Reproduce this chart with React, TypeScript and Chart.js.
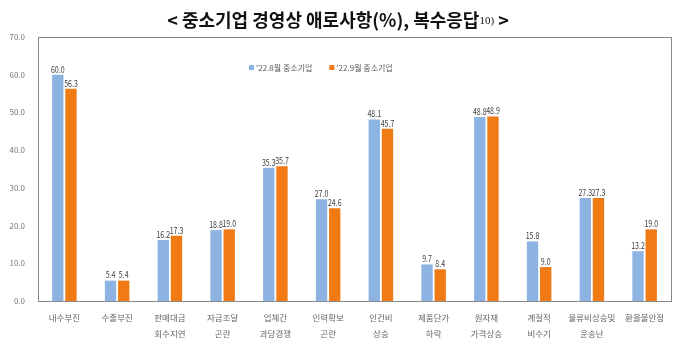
import React, { useEffect, useRef } from "react";
import { Chart, registerables } from "chart.js";

Chart.register(...registerables);

const categories: string[][] = [
  ["내수부진"],
  ["수출부진"],
  ["판매대금", "회수지연"],
  ["자금조달", "곤란"],
  ["업체간", "과당경쟁"],
  ["인력확보", "곤란"],
  ["인건비", "상승"],
  ["제품단가", "하락"],
  ["원자재", "가격상승"],
  ["계절적", "비수기"],
  ["물류비상승및", "운송난"],
  ["환율불안정"],
];
const seriesAug = [60.0, 5.4, 16.2, 18.8, 35.3, 27.0, 48.1, 9.7, 48.8, 15.8, 27.3, 13.2];
const seriesSep = [56.3, 5.4, 17.3, 19.0, 35.7, 24.6, 45.7, 8.4, 48.9, 9.0, 27.3, 19.0];
const seriesNames = ["'22.8월 중소기업", "'22.9월 중소기업"];
const colors = ["#8DB3E2", "#F07B14"];
const titleMain = "< 중소기업 경영상 애로사항(%), 복수응답";
const titleSup = "10)";
const titleEnd = " >";

const FONT = "'Noto Sans CJK KR', 'Noto Sans', sans-serif";

const decorPlugin = {
  id: "decor",
  afterDraw(chart: any) {
    const ctx = chart.ctx;
    const ca = chart.chartArea;
    ctx.save();
    // border
    ctx.strokeStyle = "#8a8a8a";
    ctx.lineWidth = 1;
    ctx.strokeRect(Math.round(ca.left) + 0.5, Math.round(ca.top) + 0.5, Math.round(ca.right - ca.left), Math.round(ca.bottom - ca.top));

    // title
    ctx.fillStyle = "#111";
    ctx.textBaseline = "middle";
    const mainFont = `bold 18px ${FONT}`;
    const supFont = `11px 'Liberation Serif', serif`;
    ctx.font = mainFont;
    const w1 = ctx.measureText(titleMain).width;
    const w3 = ctx.measureText(titleEnd).width;
    ctx.font = supFont;
    const w2 = ctx.measureText(titleSup).width;
    let x = 338 - (w1 + w2 + w3) / 2;
    const y = 20;
    ctx.textAlign = "left";
    ctx.font = mainFont;
    ctx.fillText(titleMain, x, y);
    x += w1;
    ctx.font = supFont;
    ctx.fillText(titleSup, x, y + 1);
    x += w2;
    ctx.font = mainFont;
    ctx.fillText(titleEnd, x, y);

    // legend
    ctx.font = `8px ${FONT}`;
    let lx = 249;
    const ly = 68;
    seriesNames.forEach((name, i) => {
      ctx.fillStyle = colors[i];
      ctx.fillRect(lx, ly - 3, 5, 5);
      ctx.fillStyle = "#595959";
      ctx.fillText(name, lx + 7, ly);
      lx += ctx.measureText(name).width + 7 + 17;
    });

    // data labels (condensed)
    ctx.font = `9.5px ${FONT}`;
    ctx.fillStyle = "#404040";
    ctx.textAlign = "center";
    ctx.textBaseline = "bottom";
    chart.data.datasets.forEach((ds: any, di: number) => {
      const meta = chart.getDatasetMeta(di);
      meta.data.forEach((bar: any, i: number) => {
        ctx.save();
        ctx.translate(bar.x, bar.y - 1);
        ctx.scale(0.74, 1);
        ctx.fillText(Number(ds.data[i]).toFixed(1), 0, 0);
        ctx.restore();
      });
    });
    ctx.restore();
  },
};

export default function App() {
  const ref = useRef<HTMLCanvasElement>(null);
  useEffect(() => {
    document.body.style.margin = "0";
    const chart = new Chart(ref.current!, {
      type: "bar",
      data: {
        labels: categories,
        datasets: [
          { label: seriesNames[0], data: seriesAug, backgroundColor: colors[0] },
          { label: seriesNames[1], data: seriesSep, backgroundColor: colors[1] },
        ],
      },
      options: {
        animation: false,
        responsive: false,
        layout: { padding: { left: 0, right: 9, top: 37, bottom: 0 } },
        plugins: { legend: { display: false }, tooltip: { enabled: false }, title: { display: false } },
        datasets: { bar: { categoryPercentage: 0.5, barPercentage: 0.86 } } as any,
        scales: {
          x: {
            grid: { display: false },
            border: { display: false },
            ticks: { color: "#666", font: { size: 8.5, family: FONT, lineHeight: 1.88 }, padding: 1, maxRotation: 0, autoSkip: false },
            afterFit(scale: any) { scale.height = 51; },
          },
          y: {
            min: 0,
            max: 70,
            grid: { display: false },
            border: { display: false },
            ticks: {
              stepSize: 10,
              color: "#777",
              font: { size: 8, family: FONT },
              padding: 5,
              callback: (v: any) => Number(v).toFixed(1),
            },
            afterFit(scale: any) { scale.width = 38; },
          },
        },
      },
      plugins: [decorPlugin],
    });
    return () => chart.destroy();
  }, []);
  return (
    <div style={{ width: 680, height: 352, background: "#fff" }}>
      <canvas ref={ref} width={680} height={352} />
    </div>
  );
}
